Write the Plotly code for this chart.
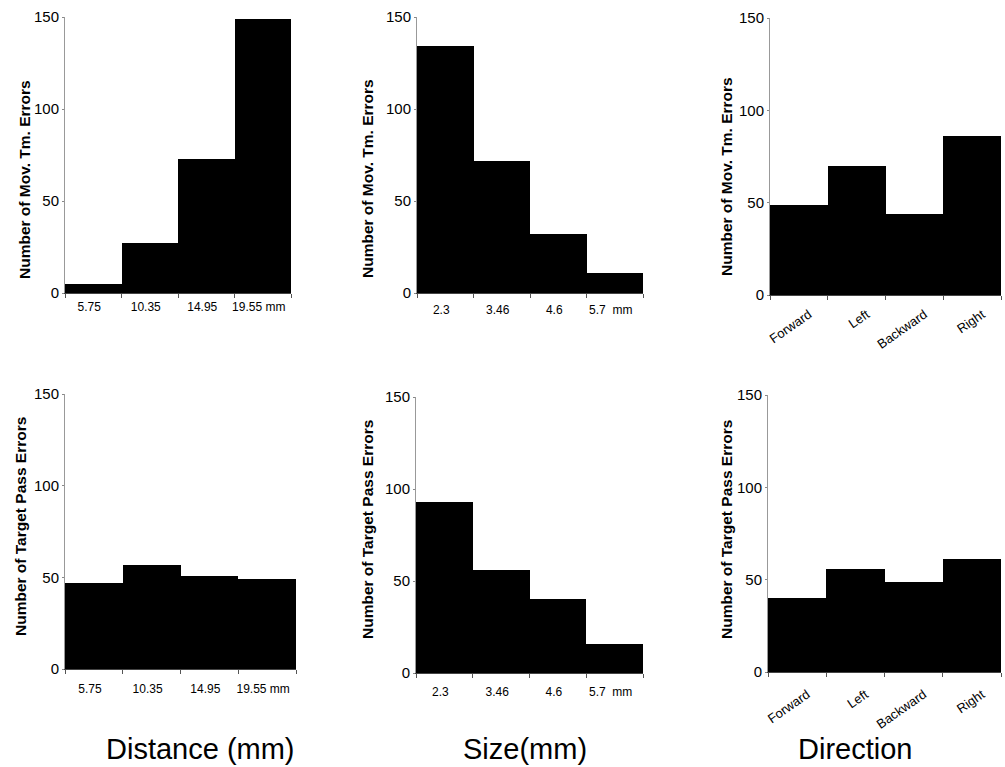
import plotly.graph_objects as go

# ---- data ----
distance_labels = ["5.75", "10.35", "14.95", "19.55 mm"]
size_labels = ["2.3", "3.46", "4.6", "5.7  mm"]
direction_labels = ["Forward", "Left", "Backward", "Right"]

mov_distance = [5, 27, 73, 149]
mov_size = [134, 72, 32, 11]
mov_direction = [49, 70, 44, 86]

pass_distance = [47, 57, 51, 49]
pass_size = [93, 56, 40, 16]
pass_direction = [40, 56, 49, 61]

y_ticks = [0, 50, 100, 150]
mov_title = "Number of Mov. Tm. Errors"
pass_title = "Number of Target Pass Errors"
bottom_titles = ["Distance (mm)", "Size(mm)", "Direction"]

W, H = 1005, 767
FONT = "Liberation Sans, Arial, sans-serif"

# panel pixel boxes (x0, x1, ytop, ybottom)
boxes = [
    (65, 291, 17, 293),
    (417, 643, 17, 293),
    (770, 1001, 18, 295),
    (65, 296, 394, 669),
    (416, 643, 397, 673),
    (768, 1001, 395, 672),
]
# y-title centres (x, y) in pixels
title_pos = [(25, 180), (367, 179), (726, 177), (20, 527), (367, 530), (726, 530)]
# tick-label standoff per panel
standoffs = [3, 6, 6, 9, 8, 9]

panels = [
    (distance_labels, mov_distance, mov_title, 0),
    (size_labels, mov_size, mov_title, 0),
    (direction_labels, mov_direction, mov_title, -35),
    (distance_labels, pass_distance, pass_title, 0),
    (size_labels, pass_size, pass_title, 0),
    (direction_labels, pass_direction, pass_title, -35),
]

fig = go.Figure()
layout = dict(
    width=W, height=H,
    margin=dict(l=0, r=0, t=0, b=0, autoexpand=False),
    paper_bgcolor="white", plot_bgcolor="white",
    showlegend=False, bargap=0,
    font=dict(family=FONT, color="black"),
)

for i, ((cats, vals, ytitle, angle), (x0, x1, yt, yb), (tx, ty), so) in enumerate(
        zip(panels, boxes, title_pos, standoffs)):
    n = "" if i == 0 else str(i + 1)
    fig.add_trace(go.Bar(
        x=cats, y=vals, xaxis="x" + n, yaxis="y" + n,
        marker=dict(color="black", line=dict(width=0)),
        width=1.0,
    ))
    xa = dict(
        domain=[x0 / W, x1 / W], anchor="y" + n,
        type="category", range=[-0.5, 3.5],
        tickson="boundaries", ticks="outside", ticklen=4, tickcolor="#555",
        showline=True, linecolor="#444", linewidth=1,
        showgrid=False, zeroline=False, automargin=False,
        tickangle=angle, ticklabelstandoff=so,
        tickfont=dict(size=12 if angle == 0 else 13, family=FONT, color="black"),
        fixedrange=True,
    )
    if angle != 0:
        xa["ticklabelshift"] = 10
    else:
        xa["ticklabelshift"] = -4
    layout["xaxis" + n] = xa
    layout["yaxis" + n] = dict(
        domain=[1 - yb / H, 1 - yt / H], anchor="x" + n,
        range=[0, 150], tickvals=y_ticks,
        ticks="outside", ticklen=2, tickcolor="#888",
        showline=True, linecolor="#999", linewidth=1,
        showgrid=False, zeroline=False, automargin=False,
        tickfont=dict(size=15, family=FONT, color="black"),
        fixedrange=True,
    )
    fig.add_annotation(
        text=ytitle, x=tx / W, y=1 - ty / H, xref="paper", yref="paper",
        showarrow=False, textangle=-90, xanchor="center", yanchor="middle",
        font=dict(size=15.5, family=FONT, color="black", weight="bold"),
    )

fig.update_layout(**layout)

for txt, xc in zip(bottom_titles, [200, 525, 855]):
    fig.add_annotation(
        text=txt, x=xc / W, y=1 - 749 / H, xref="paper", yref="paper",
        showarrow=False, xanchor="center", yanchor="middle",
        font=dict(size=29, family=FONT, color="black"),
    )

fig.write_html("out.html")
